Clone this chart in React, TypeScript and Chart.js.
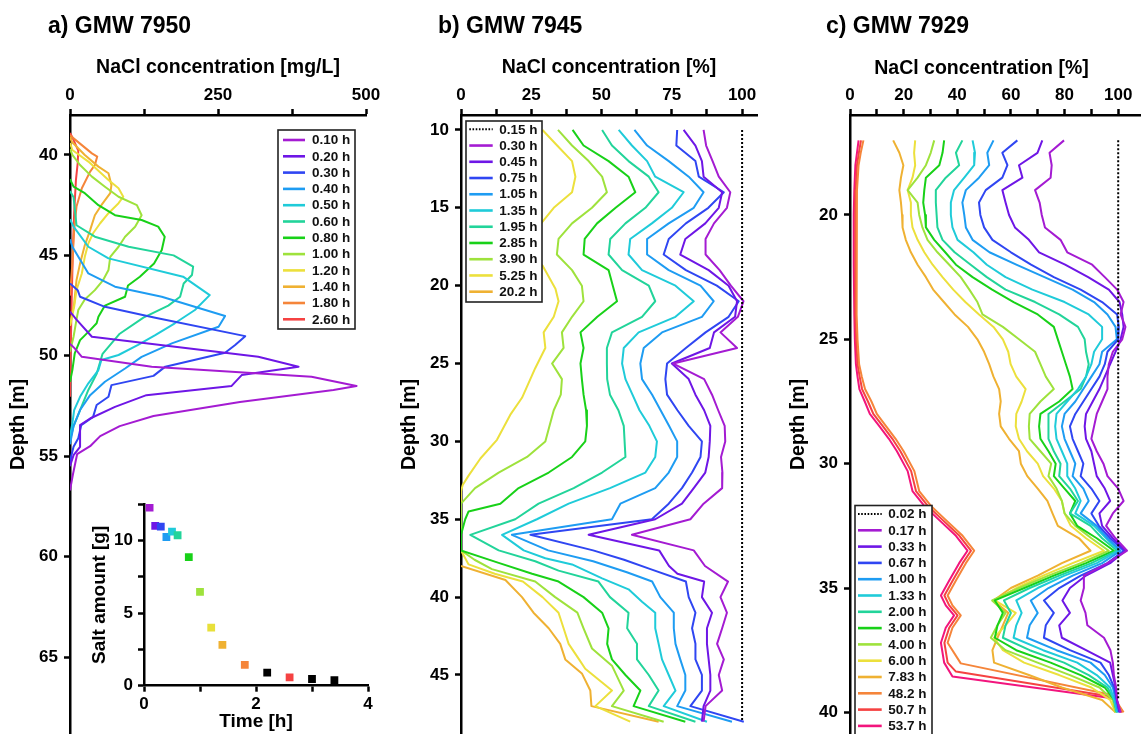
import React, { useEffect, useRef } from "react";
import { Chart, registerables } from "chart.js";

Chart.register(...registerables);

type Pt = [number, number];
const FAMILY = "'Liberation Sans', Arial, Helvetica, sans-serif";

// ---------- colours ----------
const PURPLE = "#a41bd2";
const VIOLET = "#6e16e6";
const BLUE = "#2f46f2";
const AZURE = "#1e9cf2";
const CYAN = "#1fcbd9";
const TEAL = "#22d49a";
const GREEN = "#18d118";
const YGREEN = "#9ee23c";
const YELLOW = "#ece03c";
const GOLD = "#efb132";
const ORANGE = "#f5853a";
const RED = "#f54242";
const PINK = "#f2157d";
const BLACK = "#000000";

// ---------- panel a : [depth m, NaCl mg/L] ----------
const a010: Pt[] = [[49.4,0],[49.63,8],[50.05,20],[50.54,138],[51.04,408],[51.5,484],[51.7,445],[52.3,287],[53.0,141],[53.5,84],[54.0,51],[54.5,34],[54.9,12],[55.9,5],[56.7,0]];
const a020: Pt[] = [[47.8,0],[48.2,11],[49.05,37],[50.05,318],[50.54,386],[50.96,290],[51.5,273],[51.96,129],[52.54,76],[53.12,34],[53.45,17],[54.53,17],[54.95,6],[55.5,0]];
const a030: Pt[] = [[46.4,0],[46.73,13],[47.06,17],[47.56,59],[48.1,144],[49.02,296],[49.46,279],[49.85,262],[50.54,161],[51.0,141],[51.46,70],[52.04,65],[52.45,45],[53.04,39],[53.45,19],[54.1,14],[54.53,6],[55.0,2],[55.4,0]];
const a040: Pt[] = [[44.2,0],[44.57,4],[45.9,31],[46.56,76],[47.06,155],[48.02,262],[48.55,251],[49.38,172],[50.05,121],[50.63,93],[51.29,59],[51.96,34],[52.7,17],[53.5,6],[54.4,0]];
const a050: Pt[] = [[43.2,0],[43.57,6],[44.57,31],[45.15,65],[46.06,191],[46.98,236],[47.72,211],[48.38,177],[48.97,144],[49.46,115],[49.96,82],[50.21,53],[50.71,48],[51.37,31],[52.04,17],[52.7,7],[53.37,4],[54.0,0]];
const a060: Pt[] = [[41.8,0],[42.1,6],[43.5,11],[44.07,42],[44.57,99],[45.0,175],[45.56,208],[45.98,206],[46.4,192],[47.06,186],[47.5,166],[48.1,124],[48.9,84],[49.9,55],[50.9,45],[51.7,31],[52.7,17],[53.5,6],[54.2,0]];
const a080: Pt[] = [[41.2,0],[41.58,6],[41.9,25],[42.5,48],[43.0,76],[43.24,121],[43.57,149],[44.07,160],[44.73,155],[45.4,142],[46.06,118],[46.5,98],[47.06,93],[47.5,59],[48.06,48],[48.38,45],[48.72,34],[49.22,17],[49.88,8],[50.71,4],[51.3,0]];
const a100: Pt[] = [[39.7,0],[40.0,4],[40.5,17],[41.08,37],[41.58,59],[42.08,82],[42.5,113],[43.0,121],[43.57,110],[44.07,93],[44.57,82],[45.07,68],[45.73,65],[46.23,56],[46.73,42],[47.2,25],[47.72,14],[48.2,11],[49.05,6],[49.8,0]];
const a120: Pt[] = [[39.4,0],[39.75,4],[40.33,31],[41.25,65],[41.66,82],[42.08,90],[42.4,82],[42.9,65],[43.4,51],[43.9,39],[44.4,31],[45.07,25],[45.9,20],[46.73,11],[47.56,7],[48.5,0]];
const a140: Pt[] = [[39.1,0],[39.34,3],[40.0,25],[40.58,48],[40.91,65],[41.5,70],[41.9,68],[42.5,53],[43.0,42],[43.74,34],[44.5,25],[45.4,17],[46.23,11],[47.4,7],[48.5,0]];
const a180: Pt[] = [[39.0,0],[39.1,3],[39.92,37],[40.08,46],[40.5,42],[40.83,34],[41.66,20],[42.57,11],[43.74,7],[45.4,4],[47.0,0]];
const a260: Pt[] = [[38.9,0],[39.12,4],[39.78,14],[40.4,13],[41.25,10],[42.9,7],[44.6,5],[47.0,3],[50.0,1],[52.0,0]];
const labelsA = ["0.10 h","0.20 h","0.30 h","0.40 h","0.50 h","0.60 h","0.80 h","1.00 h","1.20 h","1.40 h","1.80 h","2.60 h"];
const colorsA = [PURPLE,VIOLET,BLUE,AZURE,CYAN,TEAL,GREEN,YGREEN,YELLOW,GOLD,ORANGE,RED];
const seriesA = [a010,a020,a030,a040,a050,a060,a080,a100,a120,a140,a180,a260];
const xTicksA = [0,125,250,375,500];
const xLabelsA = [0,250,500];
const yTicksA = [40,45,50,55,60,65];

// ---------- inset : salt amount vs time ----------
const insetTime = [0.10,0.20,0.30,0.40,0.50,0.60,0.80,1.00,1.20,1.40,1.80,2.20,2.60,3.00,3.40];
const insetSalt = [12.26,11.0,10.95,10.23,10.6,10.35,8.85,6.45,3.99,2.81,1.43,0.9,0.58,0.46,0.39];
const insetColors = [PURPLE,VIOLET,BLUE,AZURE,CYAN,TEAL,GREEN,YGREEN,"#e8e03a",GOLD,ORANGE,BLACK,RED,BLACK,BLACK];
const insetXTicks = [0,1,2,3,4];
const insetXLabels = [0,2,4];
const insetYTicks = [0,2.5,5,7.5,10,12.5];
const insetYLabels = [0,5,10];

// ---------- panel b : [depth m, NaCl %] ----------
const b015: Pt[] = [[10,100],[48,100]];
const b030: Pt[] = [[10,86.3],[11,87.2],[12,89.5],[13,91.7],[14,95.8],[15,94.6],[16,90],[17,87],[18,87],[19,92],[20,96],[21,100.5],[22,98.5],[23,92.3],[24,98.2],[25,75.5],[26,86.5],[27,89.3],[28,91.5],[29,93.8],[30,94],[31,92.5],[32,93],[33,92.9],[34,86.3],[35,81.6],[36,60.8],[37,82.8],[38,86.8],[39,95],[40,92.3],[41,94.6],[42,92.9],[43,91.1],[44,93.5],[45,91.7],[46,92.9],[47,87],[48,86.3]];
const b045: Pt[] = [[10,79.2],[11,83.4],[12,85.7],[13,86.3],[14,92.9],[15,91.7],[16,86.9],[17,79.8],[18,78],[19,88.1],[20,95.2],[21,98.2],[22,97.5],[23,90],[24,88.5],[25,75],[26,81],[27,83.4],[28,86.5],[29,88.7],[30,88.5],[31,88.1],[32,86.9],[33,82.8],[34,78.6],[35,69.1],[36,45.4],[37,70.5],[38,74],[38.5,77],[39,86.5],[40,85.7],[41,89.3],[42,87.5],[43,87.5],[44,88.1],[45,88.7],[46,88.7],[47,86.3],[48,85.7]];
const b075: Pt[] = [[10,76.9],[11,76.6],[12,83.4],[13,84.6],[14,93.5],[15,88],[16,80],[17,73.9],[18,72.1],[19,80],[20,91],[21,98.8],[22,95.2],[23,87],[24,80],[25,73.3],[26,72.7],[27,73.3],[28,77],[29,81],[30,85.7],[31,85.2],[32,82.2],[33,78.6],[34,73.9],[35,67.9],[36,24.7],[37,47],[37.6,58],[38.2,67.4],[39,80],[40,81],[41,83.4],[42,82.2],[43,83.4],[44,83.4],[45,85.7],[46,85.7],[47,81.6],[48,100.6]];
const b105: Pt[] = [[10,61.7],[11,66.2],[12,73.9],[13,81],[14,86.3],[15,82.8],[16,73.9],[17,66.2],[18,66.2],[19,73.9],[20,85.2],[21,89.9],[22,85.7],[23,71.5],[24,65],[25,63.8],[26,64.4],[27,68],[28,71],[29,74],[30,76.9],[31,76.9],[32,73.9],[33,69.1],[34,56.7],[35,53.7],[36,18.1],[37,31],[37.7,47],[38.4,59],[39,68],[40,70.9],[41,75.7],[42,75.7],[43,76.3],[44,78],[45,79.8],[46,79.8],[47,76.9],[48,96.4]];
const b135: Pt[] = [[10,56.1],[11,60.8],[12,66.2],[13,69.1],[14,79.2],[15,75],[16,67.9],[17,60.2],[18,59.6],[19,64.4],[20,76.3],[21,82.8],[22,76.3],[23,63.2],[24,57.9],[25,57.3],[26,58.5],[27,61],[28,63.5],[29,67],[30,69.7],[31,69.1],[32,65.6],[33,53],[34,38.3],[35,27],[36,14.6],[37,22.3],[37.5,30],[37.9,39.5],[38.8,50.2],[39.5,59.6],[40.3,64.4],[41,69.1],[42,69.1],[43,70.3],[44,71.5],[45,73.9],[46,76.3],[47,72.1],[48,87.5]];
const b195: Pt[] = [[10,50.2],[11,53.7],[12,59.6],[13,66.8],[14,70.3],[15,65.6],[16,58.5],[17,53.1],[18,52.5],[19,57.3],[20,66.8],[21,69.1],[22,64.4],[23,53.7],[24,51.9],[25,51.9],[26,52],[27,53],[28,56],[29,57.9],[30,58.2],[31,58.5],[32,50.2],[33,40.1],[34,27.6],[35,19.3],[36,3.3],[37,13.4],[37.7,26.4],[38.3,34.7],[39,48.9],[40,53],[41,59.6],[42,59.1],[43,62.6],[44,62.6],[45,66.8],[46,70.3],[47,66.8],[48,83.4]];
const b285: Pt[] = [[10,39.7],[11,43.6],[12,52.5],[13,59.6],[14,62],[15,55],[16,48.4],[17,44],[18,43.6],[19,52.5],[20,54],[21,55.5],[22,48.5],[23,42.5],[24,43.6],[25,42.5],[26,43],[27,43.6],[28,44.5],[29,44.8],[30,44.2],[31,39.5],[32,31.2],[33,20.5],[34,14],[34.5,2.7],[35,1.5],[36,0],[37,0],[37.8,13.4],[38.5,25.3],[39,34.7],[40,43.6],[41,50.2],[42,52.5],[43,52],[44,53.7],[45,58.5],[46,63.8],[47,61.4],[48,79.8]];
const b390: Pt[] = [[10,34.5],[11,39.5],[12,45.4],[13,50.2],[14,51.9],[15,46.6],[16,39.5],[17,34.7],[18,34.1],[19,39.5],[20,43],[21,43.6],[22,39.5],[23,35.9],[24,36.5],[25,32.4],[26,35.9],[27,35.5],[28,33],[29,31.5],[30,30],[31,23.5],[32,13.4],[33,5],[34,0],[37,0],[37.6,4.8],[38.2,11],[39,26.4],[40,33.5],[41,41.4],[42,43.6],[43.3,46.6],[44.4,53.7],[46,57.9],[47,53.7],[48,72.1]];
const b525: Pt[] = [[10,29],[11,34.2],[12,39.5],[13,40.7],[14,39.5],[15,33],[16,28.5],[17,23],[18,24],[18.7,29],[20.2,33.6],[21,34.7],[22,33],[23,29.4],[24,30],[25.3,26.4],[27.2,21.7],[28.3,17.5],[29.9,12.8],[31.1,6.9],[32.2,2.7],[32.8,0.6],[33.2,0],[37,0],[37.9,2.7],[38.5,12],[39,22],[40,29],[41,34.7],[42,36.5],[43,38.3],[44,42],[44.6,44.2],[46,53.7],[47,47.8],[48,60.2]];
const b2020: Pt[] = [[38,0],[38.9,15.8],[40,21.7],[41,25.8],[42,31.2],[43,35.3],[44,37.1],[44.9,43],[46,46],[47,46.4],[48,70.3]];
const labelsB = ["0.15 h","0.30 h","0.45 h","0.75 h","1.05 h","1.35 h","1.95 h","2.85 h","3.90 h","5.25 h","20.2 h"];
const colorsB = [BLACK,PURPLE,VIOLET,BLUE,AZURE,CYAN,TEAL,GREEN,YGREEN,YELLOW,GOLD];
const seriesB = [b015,b030,b045,b075,b105,b135,b195,b285,b390,b525,b2020];
const xTicksB = [0,12.5,25,37.5,50,62.5,75,87.5,100];
const xLabelsB = [0,25,50,75,100];
const yTicksB = [10,15,20,25,30,35,40,45];

// ---------- panel c : depths and NaCl % ----------
const depthC = [17,17.5,18,18.5,19,19.5,20,20.5,21,21.5,22,22.5,23,23.5,24,24.5,25,25.5,26,26.5,27,27.5,28,28.5,29,29.5,30,30.5,31,31.5,32,32.5,33,33.5,34,34.5,35,35.5,36,36.5,37,37.5,38,38.5,39,39.5,40];
const c017 = [79.8,74.4,75.2,74.8,69,70.7,71.5,72.7,78.5,81,90.3,95,99.6,102,100.9,102.7,101.5,98,96.5,96,96,94,92,91,90,92,94.5,96,100,102,98,95.5,99,103.3,96,87.2,87.2,86,87.8,88.5,94.7,97.1,98,98.4,99.2,99.6,100.9];
const c033 = [71.7,69.9,63,64.3,56.8,58,59.3,61.5,66.7,70.5,80.2,88.8,96.5,100.5,101.5,102,100.9,99,97,95,93,90.5,88,87.5,88,90,91,92,95,97,93,94,98,102.7,97,88,82,79.2,82,78,79,88,97,98,99,99.5,100.5];
const c067 = [62.4,56.8,58.7,56.8,50.6,48.1,48.6,50,53.1,60,67.5,76,86,94,99.6,100.2,100,96,95,93,90,87,84,82,83,85,87,86,90,93,90,92.8,97,102.1,96,86,78,72.3,76,73,72.3,82,93.4,96.5,98.5,99.5,100.5];
const c100 = [53.5,51.2,51.9,48.1,43.2,41.9,42.6,43.2,45.7,52,62,72.5,83,91,96,99,99.5,94,93,90,87,84,80,79,80,82,84,83,87,89,86,92,96,100.9,94,83,74,67.4,70,67,66,77,89.7,95,98,99,100];
const c133 = [45.7,46.6,46.3,42.6,38.8,37.6,37.6,38.2,40.1,46,51,58,68,80,89,94,94,91,90,88,85,81,77,76.5,77,79,81,81,84,86,84,91,95.5,100.2,92,80,70,62,64,62,61,72,84.7,92,97,98.5,99.5];
const c200 = [41.9,39.5,40.7,35.7,32,32,32.3,32.6,34.5,39,45,51,58,69,78,85,87.5,88,89,88,86,80,74,74,74,76,78.5,78,82,85,82,89.7,94,99.6,90,78,67,57.4,60,58,57,67,79.8,89,96,98.5,99.5];
const c300 = [35.1,34.5,33.3,28.3,27.7,27.3,28,28.3,31.4,35.5,39.5,45.7,53,61,70,76,77.5,79,80.5,82,83,78,71,70.5,71,74,76.7,76,80,84,82,84.7,92,98.4,88,76,65,54,57,55,54,62,74.8,86,95,98.5,99.5];
const c400 = [31.4,30.1,28.3,25.2,21.5,25.2,25.8,27,28.9,32.6,37,41.3,44.5,47.5,49.4,57,63,69,71,73,76,71,67,66.7,67,71,75,74,77,79,80,84,90,96.5,86,74,63,53,58,55,52.5,58,69.9,82,93,98,99];
const c600 = [24.3,23.9,24.3,23.3,21.5,22.7,22.7,23.3,25.2,27.7,30.8,34.5,38.5,43,48.1,53.5,57,59,59.9,62,65.5,64,62,61.8,63,66,70,72,76,79,80,82.3,88,94.7,83,72,62,54,61.8,58,53.7,57,64.9,78,90,97,99];
const c783 = [16.1,18.4,19.9,19,18.4,19,19.4,19.6,20.8,22.7,25.2,28.3,31,35,39,44,47.5,50,51.9,53.5,55.6,56.2,55.6,56.2,59.3,63,63.7,66.1,70,73.6,75.5,77.5,85.4,89.7,79,70,60,53.5,59,57,55,53.1,53.7,66.7,79,94,99];
const c002: Pt[] = [[17,100],[39.5,100]];
const c482: Pt[] = [[17,5],[17.5,4],[18,3.2],[19,2.6],[20,2.4],[22,2.4],[24,2.6],[25,2.8],[26,3.4],[26.5,4.4],[27,5.6],[27.5,8],[28,10],[28.5,13.5],[29,17],[29.5,20],[30.3,24],[31.1,25.8],[31.7,30.2],[32.2,35.1],[32.9,42],[33.5,46.3],[34,43.2],[34.7,39.5],[35.3,36.4],[35.7,38.2],[36.1,41.3],[36.6,38.2],[37.2,36.4],[38.03,41.3],[39.3,97.8],[40,102]];
const c507: Pt[] = [[17,4.1],[17.5,3.3],[18,2.6],[19,2.1],[20,1.9],[22,1.9],[24,2.1],[25,2.3],[26,2.8],[26.5,3.6],[27,4.5],[27.5,6.7],[28,8.7],[28.5,12.3],[29,15.8],[29.5,18.8],[30.3,22.8],[31.1,24.6],[31.7,29],[32.2,33.9],[32.9,40.8],[33.5,45.1],[34,42],[34.7,38.3],[35.3,35.2],[35.7,37],[36.1,40.1],[36.6,37],[37.2,35.2],[38,36.4],[38.36,39.5],[39.37,97.8],[40,101.5]];
const c537: Pt[] = [[17,3.2],[17.5,2.6],[18,2],[19,1.6],[20,1.4],[22,1.4],[24,1.6],[25,1.8],[26,2.2],[26.5,2.8],[27,3.5],[27.5,5.5],[28,7.4],[28.5,11],[29,14.5],[29.5,17.5],[30.3,21.5],[31.1,23.3],[31.7,27.7],[32.2,32.6],[32.9,39.5],[33.5,43.8],[34,40.7],[34.7,37],[35.3,33.9],[35.7,35.7],[36.1,38.8],[36.6,35.7],[37.2,33.9],[38,35.1],[38.56,38.2],[39.43,97.8],[40,101]];
const labelsC = ["0.02 h","0.17 h","0.33 h","0.67 h","1.00 h","1.33 h","2.00 h","3.00 h","4.00 h","6.00 h","7.83 h","48.2 h","50.7 h","53.7 h"];
const colorsC = [BLACK,PURPLE,VIOLET,BLUE,AZURE,CYAN,TEAL,GREEN,YGREEN,YELLOW,GOLD,ORANGE,RED,PINK];
const gridC = (vals: number[]): Pt[] => depthC.map((d, k) => [d, vals[k]] as Pt);
const seriesC = [c002, gridC(c017), gridC(c033), gridC(c067), gridC(c100), gridC(c133), gridC(c200), gridC(c300), gridC(c400), gridC(c600), gridC(c783), c482, c507, c537];
const xTicksC = [0,10,20,30,40,50,60,70,80,90,100];
const xLabelsC = [0,20,40,60,80,100];
const yTicksC = [20,25,30,35,40];

// ---------- legend box plugin ----------
const boxLegend = {
  id: "boxLegend",
  afterDraw(chart: any, _args: any, o: any) {
    if (!o || !o.show) return;
    const ctx = chart.ctx;
    ctx.save();
    ctx.fillStyle = "#ffffff";
    ctx.fillRect(o.x, o.y, o.w, o.h);
    ctx.strokeStyle = "#222";
    ctx.lineWidth = 1.6;
    ctx.strokeRect(o.x, o.y, o.w, o.h);
    chart.data.datasets.forEach((ds: any, i: number) => {
      const cy = o.rowY0 + i * o.rowH;
      ctx.beginPath();
      const dashed = ds.borderDash && ds.borderDash.length > 0;
      ctx.setLineDash(dashed ? [1.6, 1.6] : []);
      ctx.strokeStyle = ds.borderColor;
      ctx.lineWidth = dashed ? 2 : 2.6;
      ctx.moveTo(o.sx0, cy);
      ctx.lineTo(o.sx1, cy);
      ctx.stroke();
      ctx.setLineDash([]);
      ctx.fillStyle = "#111";
      ctx.font = `bold 13.5px ${FAMILY}`;
      ctx.textAlign = "left";
      ctx.textBaseline = "middle";
      ctx.fillText(ds.label, o.tx, cy + 0.5);
    });
    ctx.restore();
  },
};

const tickFont = { family: FAMILY, size: 17, weight: "bold" as const };
const titleFont = { family: FAMILY, size: 19.5, weight: "bold" as const };
const gridOpts = { display: true, drawOnChartArea: false, drawTicks: true, tickLength: 6, tickWidth: 2.5, tickColor: "#000" };
const borderOpts = { display: true, color: "#000", width: 2.5 };

interface PanelCfg {
  series: Pt[][];
  labels: string[];
  colors: string[];
  xMax: number;
  xTicks: number[];
  xLabels: number[];
  xTitle: string;
  yMin: number;
  yMax: number;
  yTicks: number[];
  padRight: number;
  legend: any;
}

function buildProfile(canvas: HTMLCanvasElement, p: PanelCfg) {
  return new Chart(canvas, {
    type: "scatter",
    data: {
      datasets: p.series.map((s, i) => ({
        label: p.labels[i],
        data: s.map(([d, v]) => ({ x: v, y: d })),
        borderColor: p.colors[i],
        backgroundColor: p.colors[i],
        borderWidth: 2,
        borderDash: p.colors[i] === BLACK ? [2, 2] : [],
        borderJoinStyle: "round",
        showLine: true,
        pointRadius: 0,
        pointHoverRadius: 0,
        fill: false,
        tension: 0,
      })),
    },
    options: {
      animation: false,
      responsive: false,
      maintainAspectRatio: false,
      events: [],
      layout: { padding: { left: 0, top: 0, right: p.padRight, bottom: 0 }, autoPadding: false },
      plugins: {
        legend: { display: false },
        tooltip: { enabled: false },
        boxLegend: p.legend,
      },
      scales: {
        x: {
          type: "linear",
          position: "top",
          min: 0,
          max: p.xMax,
          bounds: "data",
          afterBuildTicks: (s: any) => { s.ticks = p.xTicks.map((v) => ({ value: v })); },
          afterFit: (s: any) => { s.height = 115; s.paddingLeft = 0; s.paddingRight = 0; },
          ticks: {
            autoSkip: false, maxRotation: 0, minRotation: 0, padding: 3, color: "#000", font: tickFont,
            callback: (v: any) => (p.xLabels.includes(Number(v)) ? String(v) : ""),
          },
          grid: gridOpts,
          border: borderOpts,
          title: { display: p.xTitle !== "", text: p.xTitle, color: "#000", font: titleFont, padding: { top: 56, bottom: 0 } },
        },
        y: {
          type: "linear",
          position: "left",
          reverse: true,
          min: p.yMin,
          max: p.yMax,
          bounds: "data",
          afterBuildTicks: (s: any) => { s.ticks = p.yTicks.map((v) => ({ value: v })); },
          afterFit: (s: any) => { s.width = 70; s.paddingTop = 0; s.paddingBottom = 0; },
          ticks: { autoSkip: false, padding: 6, color: "#000", font: tickFont, callback: (v: any) => String(v) },
          grid: gridOpts,
          border: borderOpts,
          title: { display: true, text: "Depth [m]", color: "#000", font: titleFont, padding: { top: 7, bottom: 0 } },
        },
      },
    } as any,
    plugins: [boxLegend as any],
  });
}

function buildInset(canvas: HTMLCanvasElement) {
  return new Chart(canvas, {
    type: "scatter",
    data: {
      datasets: [{
        label: "Salt amount",
        data: insetTime.map((t, i) => ({ x: t, y: insetSalt[i] })),
        pointStyle: "rect",
        pointRadius: 5.5,
        pointHoverRadius: 5.5,
        backgroundColor: insetColors,
        borderColor: insetColors,
        borderWidth: 0,
      }],
    },
    options: {
      animation: false,
      responsive: false,
      maintainAspectRatio: false,
      events: [],
      layout: { padding: { left: 0, top: 9, right: 17, bottom: 0 }, autoPadding: false },
      plugins: { legend: { display: false }, tooltip: { enabled: false } },
      scales: {
        x: {
          type: "linear", position: "bottom", min: 0, max: 4, bounds: "data",
          afterBuildTicks: (s: any) => { s.ticks = insetXTicks.map((v) => ({ value: v })); },
          afterFit: (s: any) => { s.height = 48.3; s.paddingLeft = 0; s.paddingRight = 0; },
          ticks: { autoSkip: false, maxRotation: 0, padding: 2, color: "#000", font: tickFont,
            callback: (v: any) => (insetXLabels.includes(Number(v)) ? String(v) : "") },
          grid: gridOpts,
          border: borderOpts,
          title: { display: true, text: "Time [h]", color: "#000", font: { family: FAMILY, size: 19, weight: "bold" }, padding: { top: 0, bottom: 1 } },
        },
        y: {
          type: "linear", position: "left", min: 0, max: 12.5, bounds: "data",
          afterBuildTicks: (s: any) => { s.ticks = insetYTicks.map((v) => ({ value: v })); },
          afterFit: (s: any) => { s.width = 64; s.paddingTop = 0; s.paddingBottom = 0; },
          ticks: { autoSkip: false, padding: 5, color: "#000", font: tickFont,
            callback: (v: any) => (insetYLabels.includes(Number(v)) ? String(v) : "") },
          grid: gridOpts,
          border: borderOpts,
          title: { display: true, text: "Salt amount [g]", color: "#000", font: { family: FAMILY, size: 19, weight: "bold" }, padding: { top: 8.5, bottom: 0 } },
        },
      },
    } as any,
  });
}

const panelA: PanelCfg = {
  series: seriesA, labels: labelsA, colors: colorsA,
  xMax: 500, xTicks: xTicksA, xLabels: xLabelsA, xTitle: "NaCl concentration [mg/L]",
  yMin: 38.01, yMax: 68.83, yTicks: yTicksA, padRight: 19,
  legend: { show: true, x: 278, y: 130, w: 77, h: 199, rowY0: 140, rowH: 16.3, sx0: 283, sx1: 305, tx: 312 },
};
const panelB: PanelCfg = {
  series: seriesB, labels: labelsB, colors: colorsB,
  xMax: 105.3, xTicks: xTicksB, xLabels: xLabelsB, xTitle: "NaCl concentration [%]",
  yMin: 9.04, yMax: 48.79, yTicks: yTicksB, padRight: 11,
  legend: { show: true, x: 75, y: 121, w: 76, h: 181, rowY0: 129.3, rowH: 16.24, sx0: 78.3, sx1: 101.7, tx: 108.3 },
};
const panelC: PanelCfg = {
  series: seriesC, labels: labelsC, colors: colorsC,
  xMax: 108.5, xTicks: xTicksC, xLabels: xLabelsC, xTitle: "",
  yMin: 15.98, yMax: 40.87, yTicks: yTicksC, padRight: 0,
  legend: { show: true, x: 75, y: 505.5, w: 77, h: 240, rowY0: 514, rowH: 16.3, sx0: 78, sx1: 101.7, tx: 108.3 },
};

function ProfileCanvas({ cfg, left, width }: { cfg: PanelCfg; left: number; width: number }) {
  const ref = useRef<HTMLCanvasElement>(null);
  useEffect(() => {
    const chart = buildProfile(ref.current as HTMLCanvasElement, cfg);
    return () => chart.destroy();
  }, [cfg]);
  return (
    <canvas ref={ref} width={width} height={734}
      style={{ position: "absolute", left, top: 0, width, height: 734 }} />
  );
}

function InsetCanvas() {
  const ref = useRef<HTMLCanvasElement>(null);
  useEffect(() => {
    const chart = buildInset(ref.current as HTMLCanvasElement);
    return () => chart.destroy();
  }, []);
  return (
    <canvas ref={ref} width={305} height={239}
      style={{ position: "absolute", left: 80, top: 495, width: 305, height: 239 }} />
  );
}

const panelTitleStyle = (left: number): React.CSSProperties => ({
  position: "absolute", left, top: 14, font: `bold 23px ${FAMILY}`, lineHeight: "23px",
  whiteSpace: "nowrap", color: "#000",
});

export default function App() {
  return (
    <div style={{ position: "absolute", left: 0, top: 0, width: 1141, height: 734, overflow: "hidden", background: "#fff" }}>
      <ProfileCanvas cfg={panelA} left={0} width={385} />
      <ProfileCanvas cfg={panelB} left={391} width={377} />
      <ProfileCanvas cfg={panelC} left={780} width={361} />
      <InsetCanvas />
      <div style={panelTitleStyle(48)}>a) GMW 7950</div>
      <div style={panelTitleStyle(438)}>b) GMW 7945</div>
      <div style={panelTitleStyle(826)}>c) GMW 7929</div>
      <div style={{ position: "absolute", left: 831.5, width: 300, top: 57.5, textAlign: "center",
        font: `bold 19.5px ${FAMILY}`, lineHeight: "19.5px", whiteSpace: "nowrap", color: "#000" }}>
        NaCl concentration [%]
      </div>
    </div>
  );
}
